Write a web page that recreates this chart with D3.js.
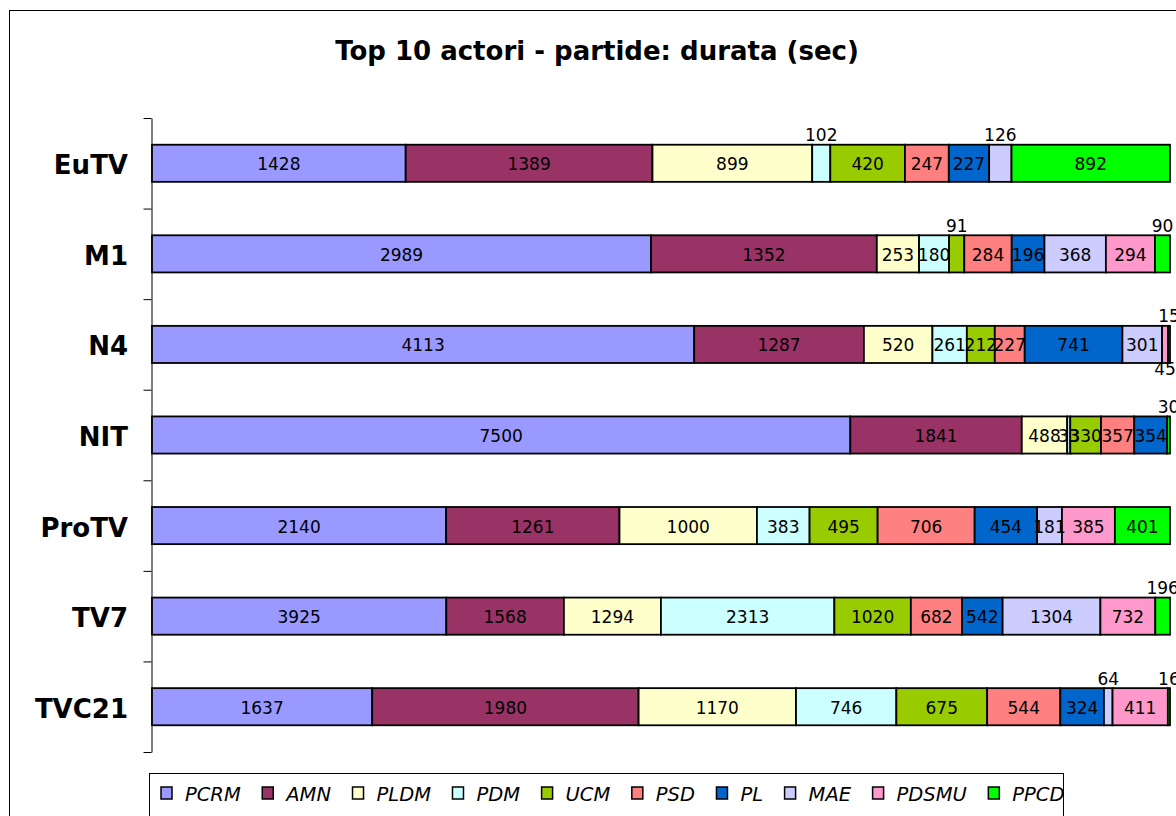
<!DOCTYPE html>
<html>
<head>
<meta charset="utf-8">
<script src="https://cdn.jsdelivr.net/npm/d3@7"></script>
<style>
  body { margin: 0; background: #fff; }
  svg { display: block; font-family: "DejaVu Sans", Verdana, sans-serif; }
</style>
</head>
<body>
<div class="chart"></div>
<script>
var categories = ['EuTV', 'M1', 'N4', 'NIT', 'ProTV', 'TV7', 'TVC21'];
var series = ['PCRM', 'AMN', 'PLDM', 'PDM', 'UCM', 'PSD', 'PL', 'MAE', 'PDSMU', 'PPCD'];

var PCRM  = [1428, 2989, 4113, 7500, 2140, 3925, 1637];
var AMN   = [1389, 1352, 1287, 1841, 1261, 1568, 1980];
var PLDM  = [899, 253, 520, 488, 1000, 1294, 1170];
var PDM   = [102, 180, 261, 33, 383, 2313, 746];
var UCM   = [420, 91, 212, 330, 495, 1020, 675];
var PSD   = [247, 284, 227, 357, 706, 682, 544];
var PL    = [227, 196, 741, 354, 454, 542, 324];
var MAE   = [126, 368, 301, 0, 181, 1304, 64];
var PDSMU = [0, 294, 45, 0, 385, 732, 411];
var PPCD  = [892, 90, 15, 30, 401, 196, 16];

var colors = ['#9999ff', '#993366', '#ffffcc', '#ccffff', '#99cc00',
              '#ff8080', '#0066cc', '#ccccff', '#ff99cc', '#00ff00'];

// labels that sit outside the bar (category, series, side)
var outsideLabels = [
  ['EuTV', 'PDM', 'above'], ['EuTV', 'MAE', 'above'],
  ['M1', 'UCM', 'above'], ['M1', 'PPCD', 'above'],
  ['N4', 'PDSMU', 'below'], ['N4', 'PPCD', 'above'],
  ['NIT', 'PPCD', 'above'],
  ['TV7', 'PPCD', 'above'],
  ['TVC21', 'MAE', 'above'], ['TVC21', 'PPCD', 'above']
];

var columns = {PCRM: PCRM, AMN: AMN, PLDM: PLDM, PDM: PDM, UCM: UCM,
               PSD: PSD, PL: PL, MAE: MAE, PDSMU: PDSMU, PPCD: PPCD};

var rows = categories.map(function(c, i) {
  var r = {name: c};
  series.forEach(function(s) { r[s] = columns[s][i]; });
  return r;
});

var fullWidth = 1176, fullHeight = 816;
var plot = { left: 152, right: 1170, top: 118, bottom: 752 };

var svg = d3.select('.chart')
  .append('svg')
  .attr('width', fullWidth)
  .attr('height', fullHeight);

// chart frame (runs off the right/bottom edge like the source)
svg.append('rect')
  .attr('x', 9.5).attr('y', 10.5)
  .attr('width', 1300).attr('height', 900)
  .attr('fill', '#fff')
  .attr('stroke', '#000')
  .attr('stroke-width', 1);

svg.append('text')
  .attr('x', 597).attr('y', 60)
  .attr('text-anchor', 'middle')
  .style('font-size', '26px')
  .style('font-weight', 'bold')
  .text('Top 10 actori - partide: durata (sec)');

var xScale = d3.scaleLinear()
  .domain([0, 1])
  .range([plot.left, plot.right]);

var yScale = d3.scaleBand()
  .domain(categories)
  .range([plot.top, plot.bottom])
  .paddingInner(0.59)
  .paddingOuter(0.295);

// ticks between categories
var tickScale = d3.scaleLinear()
  .domain([0, categories.length])
  .range([plot.top, plot.bottom]);

var yAxis = d3.axisLeft(tickScale)
  .tickValues(d3.range(categories.length + 1))
  .tickFormat('')
  .tickSizeInner(8)
  .tickSizeOuter(0);

svg.append('g')
  .attr('transform', 'translate(' + (plot.left - 0.5) + ',0)')
  .call(yAxis)
  .call(function(g) { g.selectAll('line, path').attr('stroke', '#000'); });

svg.append('g')
  .selectAll('text')
  .data(categories)
  .enter()
  .append('text')
  .attr('x', 128)
  .attr('y', d => yScale(d) + yScale.bandwidth() / 2 + 11)
  .attr('text-anchor', 'end')
  .style('font-size', '26px')
  .style('font-weight', 'bold')
  .text(d => d);

var stack = d3.stack()
  .keys(series)
  .offset(d3.stackOffsetExpand);

var layers = stack(rows);

var layer = svg.append('g')
  .selectAll('g')
  .data(layers)
  .enter()
  .append('g')
  .attr('fill', (d, i) => colors[i]);

layer.selectAll('rect')
  .data(d => d.filter(p => p.data[d.key] > 0))
  .enter()
  .append('rect')
  .attr('x', d => xScale(d[0]))
  .attr('y', d => yScale(d.data.name))
  .attr('width', d => xScale(d[1]) - xScale(d[0]))
  .attr('height', yScale.bandwidth())
  .attr('stroke', '#000')
  .attr('stroke-width', 1.8);

function sideOf(cat, key) {
  var hit = outsideLabels.find(o => o[0] === cat && o[1] === key);
  return hit ? hit[2] : 'inside';
}

var labels = [];
layers.forEach(function(l) {
  l.forEach(function(p) {
    var v = p.data[l.key];
    if (v > 0) labels.push({cat: p.data.name, key: l.key, v: v, x0: p[0], x1: p[1]});
  });
});

svg.append('g')
  .selectAll('text')
  .data(labels)
  .enter()
  .append('text')
  .attr('x', d => (xScale(d.x0) + xScale(d.x1)) / 2)
  .attr('y', function(d) {
    var top = yScale(d.cat), side = sideOf(d.cat, d.key);
    if (side === 'above') return top - 3.5;
    if (side === 'below') return top + yScale.bandwidth() + 12;
    return top + yScale.bandwidth() / 2 + 7;
  })
  .attr('text-anchor', 'middle')
  .style('font-size', '17px')
  .style('fill', '#000')
  .text(d => d.v);

// legend
var legend = svg.append('g');

legend.append('rect')
  .attr('x', 149.5).attr('y', 773.5)
  .attr('width', 914).attr('height', 80)
  .attr('fill', '#fff')
  .attr('stroke', '#000')
  .attr('stroke-width', 1);

var lx = 161;
series.forEach(function(s, i) {
  legend.append('rect')
    .attr('x', lx).attr('y', 787)
    .attr('width', 11).attr('height', 12)
    .attr('fill', colors[i])
    .attr('stroke', '#000')
    .attr('stroke-width', 1.5);
  var t = legend.append('text')
    .attr('x', lx + 24).attr('y', 801)
    .style('font-size', '19.5px')
    .style('font-style', 'italic')
    .text(s);
  lx += 24 + t.node().getComputedTextLength() + 21.5;
});
</script>
</body>
</html>
